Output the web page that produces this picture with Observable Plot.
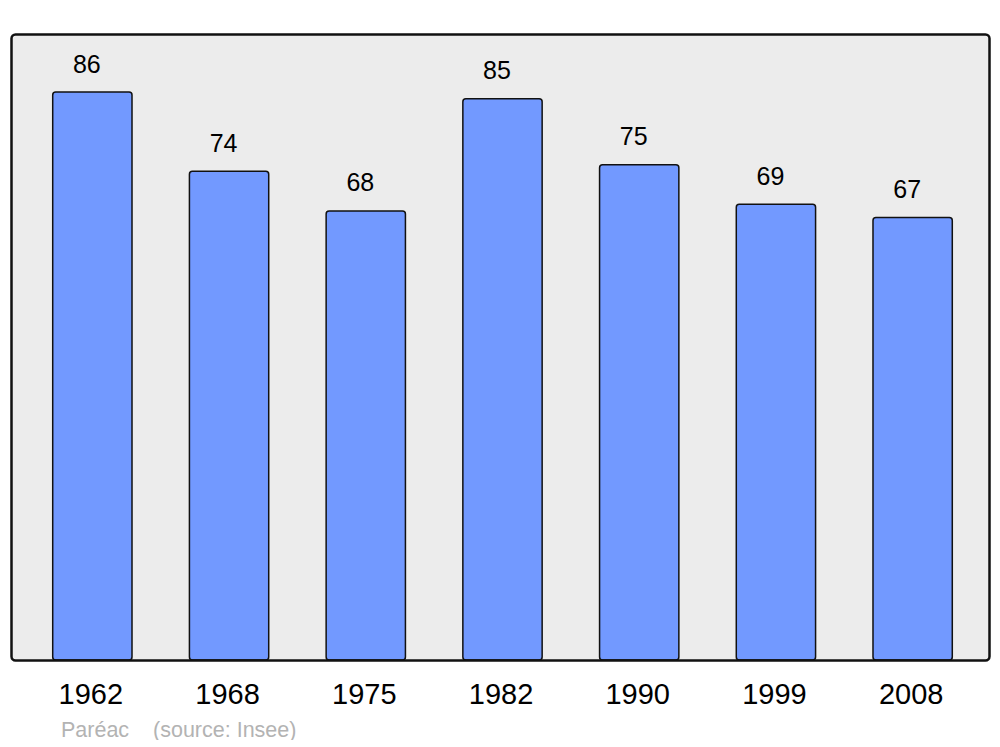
<!DOCTYPE html>
<html>
<head>
<meta charset="utf-8">
<script src="https://cdn.jsdelivr.net/npm/d3@7"></script>
<script src="https://cdn.jsdelivr.net/npm/@observablehq/plot@0.6"></script>
<style>
  body { margin: 0; background: #fff; font-family: "Liberation Sans", Arial, sans-serif; }
  #caption { margin: 5px 0 0 61px; font-size: 21.5px; line-height: 20px; color: #b3b3b3; white-space: pre; }
</style>
</head>
<body>
<div id="chart"></div>
<div id="caption">Paréac    (source: Insee)</div>
<script>
const years = ["1962", "1968", "1975", "1982", "1990", "1999", "2008"];
const population = [86, 74, 68, 85, 75, 69, 67];
const data = years.map((year, i) => ({year, value: population[i]}));

const chart = Plot.plot({
  width: 1000,
  height: 715,
  marginLeft: 11,
  marginRight: 11,
  marginTop: 34,
  marginBottom: 55,
  style: {fontFamily: "'Liberation Sans', Arial, sans-serif", background: "white"},
  x: {domain: years, paddingInner: 0.42, paddingOuter: 0.21, insetLeft: 13, insetRight: 8, round: false, label: null},
  y: {domain: [0, 94.8], axis: null},
  marks: [
    Plot.frame({fill: "#ececec", stroke: null, rx: 4}),
    Plot.barY(data, {x: "year", y: "value", fill: "#7299ff", stroke: "#111", strokeWidth: 1.5, rx: 3}),
    Plot.text(data, {x: "year", y: "value", text: d => String(d.value), dy: -28, dx: -6, fontSize: 25, fill: "#000"}),
    Plot.frame({fill: "none", stroke: "#111", strokeWidth: 2.5, rx: 4}),
    Plot.axisX({tickSize: 0, tickPadding: 23, fontSize: 29, color: "#000", label: null, dx: -2})
  ]
});
document.getElementById("chart").appendChild(chart);
</script>
</body>
</html>
